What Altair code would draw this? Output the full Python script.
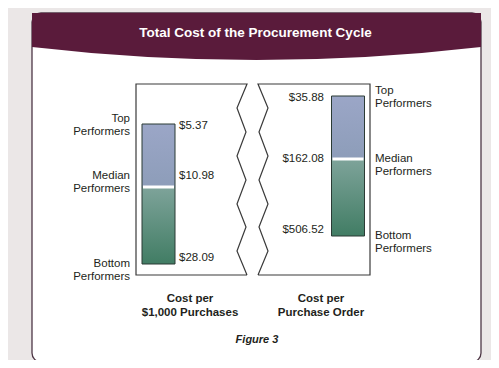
import altair as alt
import pandas as pd

# ---------------- data ----------------
metrics = ["Cost per\n$1,000 Purchases", "Cost per\nPurchase Order"]
levels = ["Top Performers", "Median Performers", "Bottom Performers"]
level_idx = [0, 1, 2]
left_values = [5.37, 10.98, 28.09]
right_values = [35.88, 162.08, 506.52]
title_text = "Total Cost of the Procurement Cycle"
caption_text = "Figure 3"

# ---------------- style ----------------
FONT = "Liberation Sans, Arial, Helvetica, sans-serif"
INK = "#231f20"
MAROON = "#5a1b3b"
PANEL_EDGE = "#4d3645"
BOX_EDGE = "#3a3a3a"
BAR_EDGE = "#2b3b35"
BG = "#ebe7e7"
GRAD_TOP = {"gradient": "linear", "x1": 0, "y1": 0, "x2": 0, "y2": 1,
            "stops": [{"offset": 0, "color": "#9ba6c7"}, {"offset": 1, "color": "#8d9db9"}]}
GRAD_BOT = {"gradient": "linear", "x1": 0, "y1": 0, "x2": 0, "y2": 1,
            "stops": [{"offset": 0, "color": "#7ea39a"}, {"offset": 1, "color": "#417d64"}]}

W, H = 483, 352
def c(p):  # page pixel -> chart pixel
    return p - 8

LH = 12.5
FS = 11.5

def money(v):
    return f"${v:,.2f}"

def panel_df(k, vals):
    return pd.DataFrame({"metric": [metrics[k]] * 3, "level": levels,
                         "idx": level_idx, "value": vals,
                         "label": [money(v) for v in vals]})

xbar = alt.Scale(type="point", domain=metrics, range=[c(158.5), c(348)], padding=0)
xcat = alt.Scale(type="point", domain=metrics, range=[c(190), c(321)], padding=0)

panels = [
    dict(df=panel_df(0, left_values), yr=[c(124), c(187), c(264)],
         vdx=20.5, valign="left", ndx=-28.5, nalign="right", med_dy=-11),
    dict(df=panel_df(1, right_values), yr=[c(96), c(159), c(236)],
         vdx=-24, valign="right", ndx=27, nalign="left", med_dy=0),
]

layers = []

# background panel
base1 = alt.Data(values=[{}])
layers.append(alt.Chart(base1).mark_rect(fill="white", stroke=PANEL_EDGE, strokeWidth=1.3,
                                          cornerRadius=9).encode(
    x=alt.value(c(32)), x2=alt.value(c(481)), y=alt.value(c(13)), y2=alt.value(c(362))))

# header band (curved bottom) as a custom symbol
cxp, cyp, s = 256.5, 37.0, 224.5
pts = {"tl": (32, 13), "tr": (481, 13), "br": (481, 47), "ctrl": (256.5, 73), "bl": (32, 47)}
def n(pt):
    return f"{(pt[0]-cxp)/s:.5f} {(pt[1]-cyp)/s:.5f}"
band_path = f"M {n(pts['tl'])} L {n(pts['tr'])} L {n(pts['br'])} Q {n(pts['ctrl'])} {n(pts['bl'])} Z"
layers.append(alt.Chart(base1).mark_point(shape=band_path, size=(2 * s) ** 2, filled=True,
                                           fill=MAROON, opacity=1, strokeWidth=0).encode(
    x=alt.value(c(cxp)), y=alt.value(c(cyp))))

# title
layers.append(alt.Chart(base1).mark_text(text=title_text, font=FONT, fontSize=13.5, fontWeight="bold",
                                          color="white", align="center", baseline="middle").encode(
    x=alt.value(c(255.5)), y=alt.value(c(33))))

# box outline with break (zigzag)
zig_y = [84, 108, 132, 156, 180, 204, 227, 251, 275]
zig_x = [247, 237, 246, 237, 246, 237, 246, 237, 247]
left_pts = [(247, 275), (136, 275), (136, 84)] + list(zip(zig_x, zig_y))
rows = []
for i, (x, y) in enumerate(left_pts):
    rows.append({"part": "L", "i": i, "x": c(x), "y": c(y)})
right_pts = [(258, 275), (370, 275), (370, 84)] + [(505 - x, y) for x, y in zip(zig_x, zig_y)]
for i, (x, y) in enumerate(right_pts):
    rows.append({"part": "R", "i": i, "x": c(x), "y": c(y)})
outline = pd.DataFrame(rows)
layers.append(alt.Chart(outline).mark_line(color=BOX_EDGE, strokeWidth=1.2).encode(
    x=alt.X("x:Q", scale=None), y=alt.Y("y:Q", scale=None),
    detail="part:N", order="i:Q"))

# bars and labels
for p in panels:
    df = p["df"]
    ys = alt.Scale(domain=level_idx, range=p["yr"], zero=False, nice=False)
    X = alt.X("metric:N", scale=xbar, axis=None)
    one = df.iloc[[0]]
    layers.append(alt.Chart(one).mark_bar(size=33, color=GRAD_TOP).encode(
        x=X, y=alt.Y(datum=0, scale=ys, axis=None), y2=alt.datum(1)))
    layers.append(alt.Chart(one).mark_bar(size=33, color=GRAD_BOT).encode(
        x=X, y=alt.Y(datum=1, scale=ys, axis=None), y2=alt.datum(2)))
    layers.append(alt.Chart(one).mark_bar(size=33, fillOpacity=0, stroke=BAR_EDGE, strokeWidth=1).encode(
        x=X, y=alt.Y(datum=0, scale=ys, axis=None), y2=alt.datum(2)))
    layers.append(alt.Chart(one).mark_tick(orient="horizontal", size=31, thickness=3,
                                            color="white", opacity=1).encode(
        x=X, y=alt.Y(datum=1, scale=ys, axis=None)))
    dys = {0: (1.5, -LH / 2 + 1.5), 1: (p["med_dy"], p["med_dy"]), 2: (-6, LH / 2 - 6)}
    for i in level_idx:
        vdy, ndy = dys[i]
        sub = df[df["idx"] == i]
        layers.append(alt.Chart(sub).mark_text(font=FONT, fontSize=FS, color=INK, align=p["valign"],
                                               baseline="middle", dx=p["vdx"], dy=vdy).encode(
            x=X, y=alt.Y("idx:Q", scale=ys, axis=None), text="label:N"))
        layers.append(alt.Chart(sub).mark_text(font=FONT, fontSize=FS, color=INK, align=p["nalign"],
                                               baseline="middle", dx=p["ndx"], dy=ndy,
                                               lineBreak=" ", lineHeight=LH).encode(
            x=X, y=alt.Y("idx:Q", scale=ys, axis=None), text="level:N"))

# category labels
cat_df = pd.DataFrame({"metric": metrics})
layers.append(alt.Chart(cat_df).mark_text(font=FONT, fontSize=11.5, fontWeight="bold", color=INK,
                                           align="center", baseline="middle", lineBreak="\n",
                                           lineHeight=14).encode(
    x=alt.X("metric:N", scale=xcat, axis=None), y=alt.value(c(299)), text="metric:N"))

# caption
layers.append(alt.Chart(base1).mark_text(text=caption_text, font=FONT, fontSize=11, fontWeight="bold",
                                          fontStyle="italic", color=INK, align="center",
                                          baseline="middle").encode(
    x=alt.value(c(257)), y=alt.value(c(340))))

chart = alt.layer(*layers).resolve_scale(x="independent", y="independent").properties(
    width=W, height=H, autosize=alt.AutoSizeParams(type="none"), padding=0, background=BG
).configure_view(stroke=None)

chart.save("out.html", embed_options={"renderer": "svg", "actions": False})
